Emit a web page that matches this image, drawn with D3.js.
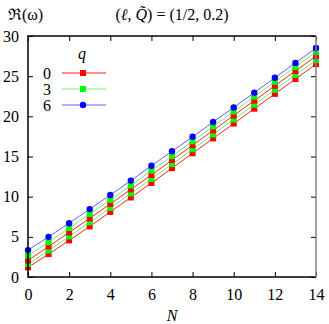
<!DOCTYPE html>
<html>
<head>
<meta charset="utf-8">
<script src="https://cdn.jsdelivr.net/npm/d3@7"></script>
<style>
body { margin: 0; background: #fff; }
text { font-family: "Liberation Serif", "DejaVu Serif", serif; }
</style>
</head>
<body>
<div id="chart"></div>
<script>
// data
var nValues = [0, 1, 2, 3, 4, 5, 6, 7, 8, 9, 10, 11, 12, 13, 14];
var q6 = [3.35, 5.0, 6.7, 8.45, 10.2, 12.0, 13.85, 15.65, 17.45, 19.3, 21.1, 22.95, 24.8, 26.65, 28.5];
var q3a = [2.65, 4.35, 6.1, 7.85, 9.6, 11.4, 13.25, 15.05, 16.9, 18.75, 20.6, 22.45, 24.3, 26.15, 28.0];
var q0a = [2.05, 3.8, 5.55, 7.3, 9.1, 10.9, 12.7, 14.55, 16.4, 18.25, 20.1, 21.95, 23.8, 25.65, 27.5];
var q3b = [1.6, 3.3, 5.05, 6.8, 8.6, 10.4, 12.2, 14.05, 15.9, 17.75, 19.6, 21.45, 23.3, 25.15, 27.0];
var q0b = [1.2, 2.85, 4.55, 6.3, 8.1, 9.9, 11.7, 13.55, 15.4, 17.25, 19.1, 20.95, 22.8, 24.65, 26.5];
var xTicks = [0, 2, 4, 6, 8, 10, 12, 14];
var yTicks = [0, 5, 10, 15, 20, 25, 30];
var legendLabels = ["0", "3", "6"];

var svgWidth = 329;
var svgHeight = 324;
var margin = { top: 36, right: 13, bottom: 47, left: 28 };
var width = svgWidth - margin.left - margin.right;
var height = svgHeight - margin.top - margin.bottom;

var svg = d3.select("#chart")
  .append("svg")
  .attr("width", svgWidth)
  .attr("height", svgHeight);

var chartGroup = svg.append("g")
  .attr("transform", `translate(${margin.left}, ${margin.top})`);

var xScale = d3.scaleLinear().domain([0, 14]).range([0, width]);
var yScale = d3.scaleLinear().domain([0, 30]).range([height, 0]);

// series, drawn bottom to top
var series = [
  { vals: q0b, color: "#ff0000", line: "#ff2020", mark: "square" },
  { vals: q3b, color: "#00ff00", line: "#70f070", mark: "square" },
  { vals: q0a, color: "#ff0000", line: "#ff2020", mark: "square" },
  { vals: q3a, color: "#00ff00", line: "#70f070", mark: "square" },
  { vals: q6, color: "#0000ff", line: "#6060ff", mark: "circle" }
];

var line = d3.line()
  .x((d, i) => xScale(nValues[i]))
  .y(d => yScale(d));

series.forEach(function(s) {
  chartGroup.append("path")
    .datum(s.vals)
    .attr("d", line)
    .attr("fill", "none")
    .attr("stroke", s.line)
    .attr("stroke-width", 1);
});

series.forEach(function(s) {
  if (s.mark == "circle") {
    chartGroup.selectAll(null)
      .data(s.vals)
      .enter()
      .append("circle")
      .attr("cx", (d, i) => xScale(nValues[i]))
      .attr("cy", d => yScale(d))
      .attr("r", 3.2)
      .attr("fill", s.color);
  } else {
    chartGroup.selectAll(null)
      .data(s.vals)
      .enter()
      .append("rect")
      .attr("x", (d, i) => xScale(nValues[i]) - 3)
      .attr("y", d => yScale(d) - 3)
      .attr("width", 6)
      .attr("height", 6)
      .attr("fill", s.color);
  }
});

// axes with inward ticks, mirrored
var bottomAxis = d3.axisBottom(xScale).tickValues(xTicks).tickSize(-5).tickPadding(12);
var topAxis = d3.axisTop(xScale).tickValues(xTicks).tickSize(-5).tickFormat("");
var leftAxis = d3.axisLeft(yScale).tickValues(yTicks).tickSize(-5).tickPadding(9);
var rightAxis = d3.axisRight(yScale).tickValues(yTicks).tickSize(-5).tickFormat("");

chartGroup.append("g").attr("transform", `translate(0, ${height})`).call(bottomAxis);
chartGroup.append("g").call(topAxis);
chartGroup.append("g").call(leftAxis);
chartGroup.append("g").attr("transform", `translate(${width}, 0)`).call(rightAxis);

chartGroup.selectAll(".domain").remove();
chartGroup.selectAll(".tick line").attr("stroke", "#000").attr("stroke-width", 1);
chartGroup.selectAll(".tick text")
  .attr("font-size", 16)
  .attr("font-family", "Liberation Serif, serif")
  .attr("fill", "#000");

// frame
chartGroup.append("path")
  .attr("d", `M${width},0H0V${height}H${width}`)
  .attr("fill", "none")
  .attr("stroke", "#000")
  .attr("stroke-width", 1.5);
chartGroup.append("line")
  .attr("x1", width).attr("x2", width)
  .attr("y1", 0).attr("y2", height)
  .attr("stroke", "#808080")
  .attr("stroke-width", 1.5);

// legend
var legend = chartGroup.append("g");
legend.append("text")
  .attr("x", 54).attr("y", 23)
  .attr("font-size", 16)
  .attr("font-style", "italic")
  .attr("text-anchor", "middle")
  .text("q");

var legendSeries = [series[2], series[3], series[4]];
legendLabels.forEach(function(lab, i) {
  var y = 37 + i * 16;
  var s = legendSeries[i];
  legend.append("text")
    .attr("x", 19).attr("y", y)
    .attr("dy", "0.35em")
    .attr("font-size", 16)
    .attr("text-anchor", "middle")
    .text(lab);
  legend.append("line")
    .attr("x1", 34).attr("x2", 78)
    .attr("y1", y).attr("y2", y)
    .attr("stroke", s.line)
    .attr("stroke-width", 1);
  if (s.mark == "circle") {
    legend.append("circle").attr("cx", 55).attr("cy", y).attr("r", 3.2).attr("fill", s.color);
  } else {
    legend.append("rect").attr("x", 52).attr("y", y - 3).attr("width", 6).attr("height", 6).attr("fill", s.color);
  }
});

// titles
svg.append("text")
  .attr("x", 8).attr("y", 20)
  .attr("font-size", 16)
  .text("ℜ(ω)");

svg.append("text")
  .attr("x", 172).attr("y", 20)
  .attr("font-size", 16)
  .attr("text-anchor", "middle")
  .html('(<tspan font-style="italic">ℓ</tspan>, <tspan font-style="italic">Q̃</tspan>) = (1/2, 0.2)');

svg.append("text")
  .attr("x", margin.left + width / 2).attr("y", 321)
  .attr("font-size", 16)
  .attr("font-style", "italic")
  .attr("text-anchor", "middle")
  .text("N");
</script>
</body>
</html>
